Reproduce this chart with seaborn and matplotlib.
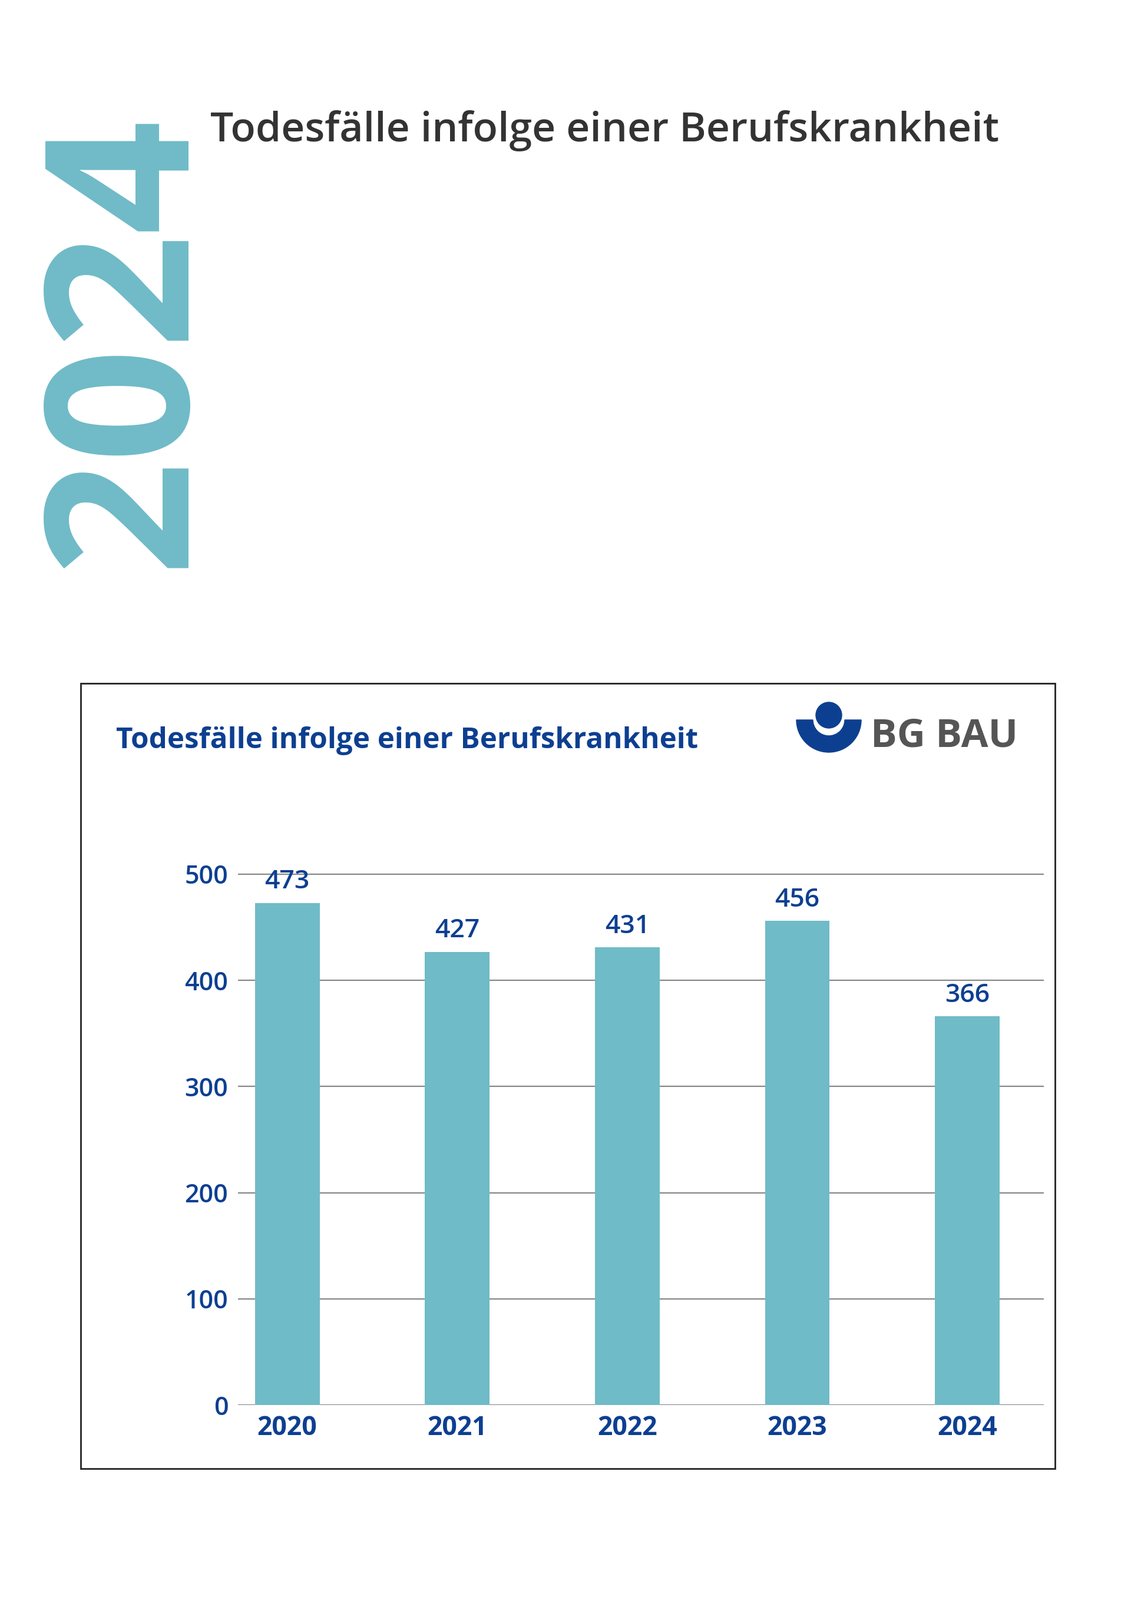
import matplotlib
matplotlib.use("Agg")
import matplotlib.pyplot as plt
import seaborn as sns
import pandas as pd
from matplotlib.patches import Rectangle, Wedge, Circle

years = ["2020", "2021", "2022", "2023", "2024"]
deaths = [473, 427, 431, 456, 366]
yticks = [0, 100, 200, 300, 400, 500]
title = "Todesfälle infolge einer Berufskrankheit"

TEAL = "#6fbbc7"
BLUE = "#0d3f91"
W, H = 1920, 2716
fig = plt.figure(figsize=(W/100, H/100), dpi=100)
fig.patch.set_facecolor("white")
font = "Open Sans"

# big vertical year
fig.text(220/W, 1-578/H, "2024", rotation=90, color=TEAL, fontsize=244,
         fontweight="bold", fontfamily=font, ha="center", va="center")
fig.text(357/W, 1-222/H, title, color="#333333", fontsize=50, fontfamily=font,
         fontweight="medium", ha="left", va="center")

# frame
fig.patches.append(Rectangle((137/W, 1-2493/H), (1791-137)/W, (2493-1160)/H,
                             transform=fig.transFigure, fill=False, edgecolor="#222222", lw=2))
fig.text(197/W, 1-1258/H, title, color=BLUE, fontsize=35.5, fontweight="bold",
         fontfamily=font, ha="left", va="center")
# logo
fig.patches.append(Wedge((1407, H-1222), 55, 180, 360, width=28, color=BLUE, transform=None))
fig.patches.append(Circle((1407, H-1214), 22, color=BLUE, transform=None))
fig.text(1478/W, 1-1250/H, "BG BAU", color="#555555", fontsize=48, fontweight="bold",
         fontfamily=font, ha="left", va="center")

ax = fig.add_axes([404/W, 1-2385/H, (1772-404)/W, (2385-1380)/H])
df = pd.DataFrame({"year": years, "deaths": deaths})
sns.barplot(data=df, x="year", y="deaths", color=TEAL, width=0.38, saturation=1, ax=ax)
ax.set_ylim(0, 500*1005/(2385-1484))
ax.set_xlim(-0.29, 4.45)
ax.set_yticks(yticks)
ax.set_yticklabels([str(t) for t in yticks], color=BLUE, fontsize=31, fontfamily=font,
                   fontweight="medium")
ax.set_xticks(range(len(years)))
ax.set_xticklabels(years, color=BLUE, fontsize=32, fontweight="bold", fontfamily=font)
ax.tick_params(length=0, axis="y", pad=12)
ax.tick_params(length=0, axis="x", pad=12)
ax.yaxis.grid(True, color="#888888", lw=1.6)
ax.set_axisbelow(True)
for s in ax.spines.values():
    s.set_visible(False)
ax.set_xlabel(""); ax.set_ylabel("")
for i, v in enumerate(deaths):
    ax.text(i, v + 8, str(v), ha="center", va="bottom", color=BLUE, fontsize=32,
            fontfamily=font, fontweight="medium")

fig.savefig("out.png", dpi=100)
